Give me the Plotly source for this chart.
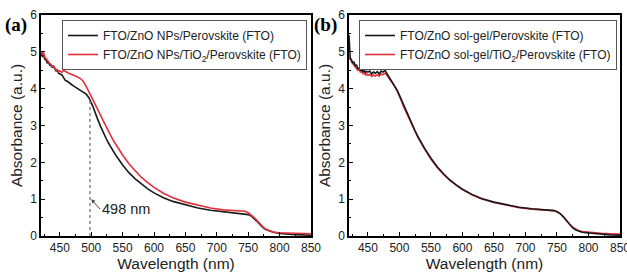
import plotly.graph_objects as go

wl = [420,422,424,426,428,430,432,434,436,438,440,442,444,446,448,450,453,456,459,462,465,468,471,474,477,480,484,488,492,496,498,500,503,506,510,515,520,525,530,535,540,550,560,570,580,590,600,615,630,650,670,690,710,730,740,745,750,755,760,765,770,775,780,785,790,800,810,820,835,850]

a_black = [4.95,4.88,4.92,4.80,4.78,4.70,4.72,4.64,4.62,4.58,4.60,4.52,4.48,4.50,4.42,4.40,4.38,4.30,4.22,4.20,4.15,4.12,4.08,4.05,4.00,3.97,3.93,3.90,3.85,3.76,3.70,3.62,3.50,3.35,3.18,2.97,2.78,2.60,2.45,2.30,2.17,1.93,1.72,1.55,1.41,1.28,1.17,1.04,0.94,0.84,0.76,0.70,0.66,0.63,0.62,0.61,0.58,0.54,0.47,0.38,0.29,0.21,0.16,0.12,0.10,0.07,0.05,0.04,0.03,0.02]

a_red = [5.02,4.95,4.98,4.86,4.82,4.76,4.74,4.68,4.66,4.60,4.62,4.55,4.50,4.52,4.46,4.48,4.44,4.50,4.46,4.44,4.41,4.40,4.37,4.35,4.33,4.30,4.26,4.18,4.06,3.92,3.85,3.80,3.70,3.58,3.44,3.25,3.08,2.92,2.76,2.60,2.46,2.20,1.96,1.76,1.59,1.45,1.32,1.16,1.04,0.92,0.83,0.76,0.71,0.68,0.67,0.67,0.63,0.57,0.49,0.40,0.30,0.22,0.17,0.13,0.11,0.09,0.08,0.07,0.07,0.06]

b_black = [5.45,4.82,4.78,4.70,4.72,4.62,4.64,4.55,4.56,4.50,4.52,4.46,4.50,4.44,4.47,4.45,4.48,4.40,4.45,4.42,4.46,4.40,4.48,4.45,4.50,4.42,4.30,4.20,4.10,3.97,3.90,3.82,3.70,3.56,3.40,3.20,3.02,2.85,2.68,2.52,2.38,2.11,1.88,1.69,1.52,1.39,1.27,1.13,1.02,0.92,0.84,0.78,0.74,0.71,0.70,0.69,0.66,0.61,0.52,0.41,0.31,0.22,0.16,0.12,0.10,0.08,0.06,0.05,0.03,0.02]

b_red = [4.80,4.85,4.72,4.68,4.63,4.60,4.55,4.50,4.52,4.45,4.47,4.41,4.43,4.37,4.40,4.36,4.39,4.33,4.37,4.34,4.38,4.34,4.40,4.38,4.42,4.37,4.27,4.18,4.08,3.95,3.88,3.80,3.68,3.54,3.38,3.18,3.00,2.83,2.66,2.50,2.36,2.09,1.86,1.67,1.51,1.38,1.26,1.12,1.01,0.91,0.83,0.77,0.73,0.70,0.69,0.69,0.66,0.61,0.53,0.42,0.32,0.24,0.18,0.14,0.12,0.10,0.08,0.07,0.06,0.05]

names_a = ["FTO/ZnO NPs/Perovskite (FTO)", "FTO/ZnO NPs/TiO<sub>2</sub>/Perovskite (FTO)"]
names_b = ["FTO/ZnO sol-gel/Perovskite (FTO)", "FTO/ZnO sol-gel/TiO<sub>2</sub>/Perovskite (FTO)"]
x_ticks = [450, 500, 550, 600, 650, 700, 750, 800, 850]
y_ticks = [0, 1, 2, 3, 4, 5, 6]
marker_wl = 498
marker_abs = 3.68

BLACK = "#1a1a1a"
RED = "#e0303c"
FONT = "Liberation Sans, Arial, sans-serif"

fig = go.Figure()
fig.add_trace(go.Scatter(x=wl, y=a_black, mode="lines", name=names_a[0], line=dict(color=BLACK, width=1.6),
                         xaxis="x", yaxis="y", legend="legend", legendrank=1))
fig.add_trace(go.Scatter(x=wl, y=a_red, mode="lines", name=names_a[1], line=dict(color=RED, width=1.6),
                         xaxis="x", yaxis="y", legend="legend", legendrank=2))
fig.add_trace(go.Scatter(x=wl, y=b_red, mode="lines", name=names_b[1], line=dict(color=RED, width=1.6),
                         xaxis="x2", yaxis="y2", legend="legend2", legendrank=2))
fig.add_trace(go.Scatter(x=wl, y=b_black, mode="lines", name=names_b[0], line=dict(color=BLACK, width=1.6),
                         xaxis="x2", yaxis="y2", legend="legend2", legendrank=1))

W, H = 627, 276
ML, MR, MT, MB = 41, 7, 15, 40
IW, IH = W - ML - MR, H - MT - MB
def px_x(p): return (p - ML) / IW
def px_y(p): return (H - MB - p) / IH

xcommon = dict(range=[420, 850], tickvals=x_ticks, ticks="inside", ticklen=4, tickwidth=1.2,
               tickcolor="black", showline=True, linecolor="black", linewidth=1.5, mirror=True,
               showgrid=False, zeroline=False, automargin=False, ticklabeloverflow="allow",
               tickfont=dict(family=FONT, size=12, color="#222"),
               minor=dict(dtick=25, tick0=425, ticks="inside", ticklen=2.5, tickcolor="black", tickwidth=1),
               title=dict(text="Wavelength (nm)", font=dict(family=FONT, size=15.5, color="#222"), standoff=3))
ycommon = dict(range=[0, 6], tickvals=y_ticks, ticks="inside", ticklen=4, tickwidth=1.2,
               tickcolor="black", showline=True, linecolor="black", linewidth=1.5, mirror=True,
               showgrid=False, zeroline=False, automargin=False,
               tickfont=dict(family=FONT, size=12, color="#222"),
               minor=dict(dtick=0.5, tick0=0.5, ticks="inside", ticklen=2.5, tickcolor="black", tickwidth=1),
               title=dict(text="Absorbance (a.u.)", font=dict(family=FONT, size=15.5, color="#222"), standoff=4))

legcommon = dict(bgcolor="white", bordercolor="#555", borderwidth=1, font=dict(family=FONT, size=12, color="#222"),
                 itemwidth=30, tracegroupgap=0, xanchor="left", yanchor="top", traceorder="normal")

fig.update_layout(
    width=W, height=H, margin=dict(l=ML, r=MR, t=MT, b=MB, autoexpand=False),
    paper_bgcolor="white", plot_bgcolor="white",
    xaxis=dict(domain=[px_x(41), px_x(311)], anchor="y", **xcommon),
    yaxis=dict(domain=[0, 1], anchor="x", **ycommon),
    xaxis2=dict(domain=[px_x(349), px_x(620)], anchor="y2", **xcommon),
    yaxis2=dict(domain=[0, 1], anchor="x2", **ycommon),
    legend=dict(x=px_x(62), y=px_y(20), **legcommon),
    legend2=dict(x=px_x(359), y=px_y(20), **legcommon),
    shapes=[dict(type="line", xref="x", yref="y", x0=marker_wl, x1=marker_wl, y0=0, y1=marker_abs,
                 line=dict(color="#888", width=1.5, dash="dot"))],
    annotations=[
        dict(text="498 nm", xref="x", yref="y", x=500, y=1.0, xanchor="left", yanchor="middle",
             showarrow=True, ax=514, ay=0.73, axref="x", ayref="y", arrowhead=2, arrowsize=0.8,
             arrowwidth=1, arrowcolor="#444", standoff=0,
             font=dict(family=FONT, size=14.5, color="#222")),
        dict(text="<b>(a)</b>", xref="paper", yref="paper", x=px_x(3), y=px_y(12), xanchor="left", yanchor="top",
             showarrow=False, font=dict(family="Liberation Serif, Times New Roman, serif", size=19, color="black")),
        dict(text="<b>(b)</b>", xref="paper", yref="paper", x=px_x(312), y=px_y(12), xanchor="left", yanchor="top",
             showarrow=False, font=dict(family="Liberation Serif, Times New Roman, serif", size=19, color="black")),
    ],
)
fig.write_html("out.html", config={"displayModeBar": False},
               post_script="document.body.style.margin='0';document.body.style.overflow='hidden';")
